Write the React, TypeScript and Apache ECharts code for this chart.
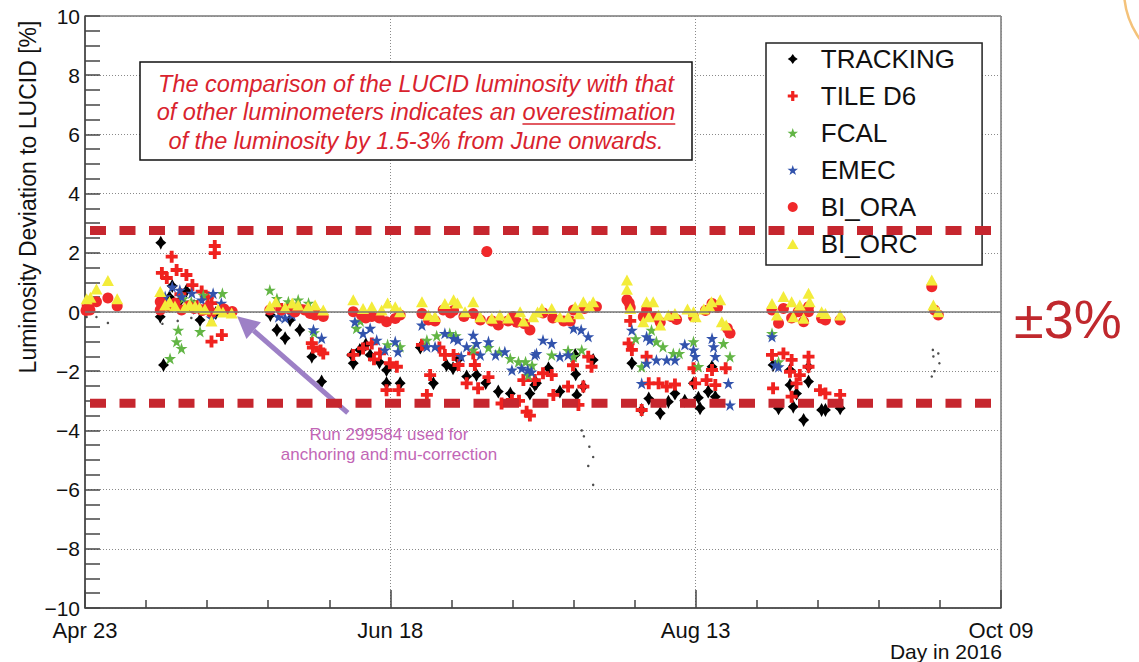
import React, { useEffect, useRef } from 'react';
import * as echarts from 'echarts';

const FONT = '"Liberation Sans", Arial, Helvetica, sans-serif';

// x: days since Apr 23 2016
const xTickDays = [0, 56, 112, 168];
const xTickLabels = ['Apr 23', 'Jun 18', 'Aug 13', 'Oct 09'];
const seriesNames = ['TRACKING', 'TILE D6', 'FCAL', 'EMEC', 'BI_ORA', 'BI_ORC'];

const tracking = [
  [13.9, 2.34], [14.4, -1.79], [16, 0.88], [18.6, 0.72], [21.1, -0.27], [13.8, -0.16], [25, 0.07], [24, -0.03],
  [15.5, 0.5], [17.5, 0.4], [20, 0.2], [22.5, 0.1],
  [35.2, -0.61], [36.7, -0.89], [37.6, -0.27], [39.4, -0.61], [41.6, -1.51], [43.4, -2.35], [34, -0.1],
  [48.9, -1.45], [49.2, -1.73], [50.4, -1.28], [52.3, -1.45], [55.3, -1.96], [55.3, -2.41], [57.8, -2.41], [51.5, -1.1], [54, -1.7],
  [63.9, -2.41], [66.3, -1.79], [67.5, -1.9], [70, -2.18], [71.8, -2.13], [75.8, -2.69], [78, -2.75], [81.6, -2.75], [82.8, -2.41],
  [82.5, -2.47], [87.1, -2.69], [90.2, -2.8], [91.4, -2.52], [89.9, -1.45], [93.2, -1.62], [90, -2.1], [73.5, -2.4], [68.5, -1.6],
  [61.5, -1.2], [85, -1.9],
  [100.3, -1.73], [102.1, -3.31], [103.4, -2.92], [105.5, -3.42], [107, -3.03], [108.2, -2.75], [111.6, -2.41], [112.5, -2.9],
  [112.8, -3.25], [114.3, -2.69], [115.6, -2.86], [115, -1.85], [110, -3.0],
  [126.2, -1.79], [127.2, -3.25], [129.3, -1.96], [129.3, -2.47], [130.5, -2.75], [129.9, -3.2], [132.7, -2.35], [132.7, -1.85],
  [131.8, -3.65], [135.1, -3.31], [135.8, -3.31], [138.5, -3.25],
];
const trackingSmall = [
  [0.3, -0.17], [2.1, -0.17], [4.2, -0.37], [14.2, -0.4], [17, -0.3], [19.5, -0.2],
  [91.1, -4.0], [91.5, -4.2], [92.5, -4.55], [93.2, -4.9], [92.3, -5.2], [93.2, -5.84],
  [155.5, -1.28], [156.5, -1.4], [155.6, -1.5], [156.7, -1.73], [155.8, -2.0], [155.3, -2.18],
];
const tileD6 = [
  [0.5, 0.2],
  [15.9, 1.87], [14.1, 1.32], [15, 1.15], [16.8, 1.42], [18.6, 1.25], [19.7, 0.91], [21.4, 0.69], [23.8, 2.23], [23.8, 1.99],
  [23.2, 0.3], [23.2, -1.0], [25.1, -0.78], [14.7, 0.35], [17.5, 0.6], [22.5, 0.5], [20.5, 0.2],
  [41.6, -1.05], [41.8, -1.2], [43.2, -1.3], [43.7, -1.4], [36, 0.1], [39, 0.2],
  [49.2, -1.45], [51, -1.23], [52.6, -1.06], [54.1, -1.4], [55.9, -1.73], [57.2, -1.85], [55.3, -2.64], [57.5, -2.64], [53, -1.6],
  [61.8, -1.11], [63.3, -2.13], [62.7, -2.8], [66, -1.45], [67.6, -1.45], [68.5, -1.79], [70, -2.41], [71.2, -1.4], [71.5, -1.79],
  [72.1, -2.58], [76.4, -3.09], [78.3, -2.97], [79.6, -3.0], [81, -3.37], [80.4, -2.3], [82.5, -2.3], [84, -2.07], [85.6, -2.13],
  [85.9, -2.8], [88.6, -2.52], [90.5, -3.14], [91.4, -2.52], [92.3, -1.51], [92.9, -1.85], [81.6, -3.5], [74, -2.2], [65, -1.2],
  [89.5, -1.8],
  [99.7, -1.06], [100.3, -1.28], [103, -1.51], [103.4, -2.41], [105.2, -2.41], [106.7, -2.52], [108.2, -2.45], [102.1, -3.31],
  [111.6, -1.9], [111.9, -2.41], [114, -2.3], [115.6, -2.47], [115, -1.96], [100, -0.3], [117.5, -1.9],
  [126, -1.45], [128.1, -1.4], [129.6, -1.62], [129.3, -2.02], [131.1, -2.13], [130.5, -2.41], [129.6, -2.86], [132.7, -1.51],
  [132.7, -1.85], [134.8, -2.64], [135.8, -2.75], [138.5, -2.8], [126.2, -2.58],
];
const fcal = [
  [17.1, -0.61], [16.8, -1.0], [17.7, -1.23], [15.6, -1.57], [21.1, -0.66], [25.2, 0.63], [19.5, 0.35], [21.7, 0.57], [18, 0.45],
  [33.9, 0.74], [35.2, 0.46], [37.3, 0.35], [39.1, 0.41], [41, 0.3], [42, -0.7],
  [49.8, -0.55], [57.8, -1.17], [50.5, -0.3], [55.5, -1.1],
  [62.7, -0.95], [66.9, -0.72], [68, -0.8], [71.2, -1.28], [78, -1.57], [79.5, -1.68], [80.8, -1.68], [81.3, -2.13], [82, -1.8],
  [85.6, -1.45], [88.6, -1.3], [91.1, -1.28], [89.6, -1.5], [74, -1.2], [76, -1.35], [64.5, -0.8],
  [103.9, -0.61], [104.8, -1.0], [102.1, -1.85], [106, -1.17], [107.9, -1.4], [111.6, -1.0], [117.1, -1.06], [118.3, -1.51],
  [112.5, -1.84], [109, -1.4], [101, -0.9],
  [126, -0.72], [127.2, -1.68],
];
const emec = [
  [17.4, 0.74], [17.7, 0.52], [21.4, 0.41], [23.5, 0.63], [23.2, -0.2], [14.7, 0.52], [19.6, 0.64], [16, 0.85], [20.5, 0.1], [25, 0.3],
  [35.5, -0.16], [36.7, -0.2], [41.9, -0.6], [43.4, -0.88], [38, -0.1],
  [49.5, -0.33], [51, -0.72], [52.3, -0.55], [53.5, -0.95], [55, -1.28], [56.9, -1.0], [57.4, -1.34],
  [61.8, -0.44], [62.7, -1.17], [64.2, -1.17], [66, -0.72], [67.6, -0.89], [68.4, -0.95], [70, -1.17], [71.2, -0.78], [71.8, -1.06],
  [72.5, -1.45], [75.3, -1.45], [77, -1.34], [78.3, -1.96], [80.1, -1.9], [81.2, -1.96], [82.5, -1.45], [84, -0.95], [85.6, -1.06],
  [82.8, -1.4], [87.1, -1.5], [89.6, -0.55], [91, -0.6], [92.3, -0.83], [81.9, -2.02], [88.6, -1.45], [74, -1.0], [69, -1.5],
  [100.3, -0.61], [103, -0.83], [103.6, -0.95], [103, -1.73], [104.8, -1.62], [106.7, -1.62], [108.2, -1.62], [111.6, -1.28],
  [111.9, -1.5], [115, -0.89], [115.3, -1.17], [115.6, -1.5], [118, -2.41], [118.3, -3.14], [102.1, -2.41], [110, -1.1],
  [126, -0.83], [126.6, -1.79], [127.2, -1.85],
];
const biOra = [
  [0.2, 0.05], [0.9, 0.07], [2.1, 0.35], [4.2, 0.47], [5.9, 0.2],
  [13.8, 0.35], [13.8, 0.07], [15.6, 0.18], [17.7, 0.07], [20, 0.12], [23.2, -0.02], [25.5, 0.1], [27, 0.02], [16.5, 0.3], [19, 0.2],
  [21.5, 0.05], [22.5, 0.15],
  [33.9, 0.07], [36, 0.07], [37.5, 0.1], [40.3, 0.07], [41.3, -0.05], [43.4, -0.08], [42.2, -0.1], [43.7, -0.15], [38.5, 0.0],
  [49.2, 0.01], [50.7, -0.1], [52.6, -0.15], [55.3, -0.33], [56.9, -0.22], [57.8, -0.1], [54, -0.2], [51.5, -0.2],
  [61.8, -0.05], [63, -0.27], [65.7, 0.07], [67.6, 0.05], [67, -0.03], [71.2, -0.05], [72.5, -0.27], [74.6, -0.3], [75.8, -0.44],
  [77.6, -0.3], [79.2, -0.35], [80.6, -0.4], [81.6, -0.61], [84, -0.03], [85.8, -0.2], [87.8, -0.3], [89.6, 0.07], [91.6, 0.12],
  [93.8, 0.18], [89, -0.3], [69.5, -0.15], [73.7, 2.04], [64.2, -0.3], [78.5, -0.15],
  [99.4, 0.41], [100, 0.15], [103, 0.07], [102.4, -0.16], [104.6, -0.16], [107.6, -0.16], [111.6, -0.16], [113.8, 0.05], [115, 0.29],
  [116, 0.15], [118.3, -0.72], [117.8, -0.55], [105.5, -0.35], [108.5, -0.25], [99.8, 0.3],
  [126, 0.07], [127.2, -0.38], [128.1, 0.12], [129.6, -0.2], [130.8, 0.01], [131.8, -0.33], [132.7, 0.18], [132.7, 0.01],
  [135.1, -0.21], [135.8, -0.27], [138.5, -0.27],
  [155.3, 0.85], [155.8, 0.07], [156.5, -0.1],
];
const biOrc = [
  [0.3, 0.45], [2.1, 0.78], [4.2, 1.06], [5.9, 0.45], [1.0, 0.5],
  [13.8, 0.69], [14.7, 0.24], [16.5, 0.2], [18.3, 0.15], [20.2, 0.2], [22, 0.1], [24.4, 0.1], [26.9, -0.03], [23.2, -0.3], [25.3, 0.0],
  [15.5, 0.35], [19.2, 0.25], [21, 0.15],
  [33.9, 0.2], [36.7, 0.15], [39.1, 0.24], [40.9, 0.18], [42.2, 0.24], [43.7, 0.07], [38, 0.3], [35, 0.35],
  [49.2, 0.41], [51, 0.12], [52.6, 0.18], [54.4, 0.07], [56.9, 0.18], [57.8, 0.01], [55.5, 0.3],
  [61.8, 0.35], [63, -0.1], [64.2, -0.15], [66, 0.29], [67.6, 0.41], [68.3, 0.3], [69.7, 0.01], [71.2, 0.35], [72.5, -0.16],
  [74.6, -0.21], [76.1, -0.1], [77.6, -0.2], [79.8, 0.01], [80.4, -0.3], [82.2, -0.16], [83.8, 0.12], [85.6, 0.12], [87.1, -0.16],
  [88.6, -0.16], [89.9, 0.18], [91.4, 0.35], [93.2, 0.35], [90.6, -0.06], [83, 0.0], [92.5, 0.2],
  [99.4, 1.08], [99.4, 0.77], [100, 0.12], [103, 0.35], [104.2, 0.35], [102.4, -0.33], [103.4, -0.16], [105.2, -0.1], [105.5, -0.44],
  [107, -0.1], [108.2, -0.05], [111.6, 0.01], [112, -0.16], [113.5, 0.1], [114.9, 0.35], [116.5, 0.41], [116.8, -0.33],
  [117.6, -0.44], [114.5, 0.2], [110.5, 0.1],
  [126, 0.29], [126.9, -0.1], [128.1, 0.52], [129.6, 0.35], [129.9, -0.16], [131.1, 0.24], [131.8, -0.21], [132.7, 0.63],
  [132.9, 0.35], [135.1, 0.01], [135.8, -0.05], [138.5, -0.1],
  [155.3, 1.08], [155.6, 0.24], [156.5, 0.01],
];

const limitUpper = 2.75;
const limitLower = -3.08;
const anchorRun = [27.9, -0.14];
const arrowTail = [48.2, -3.41];

const annotationLines = [
  'The comparison of the LUCID luminosity with that',
  'of other luminometers indicates an overestimation',
  'of the luminosity by 1.5-3% from June onwards.',
];
const runLines = ['Run 299584 used for', 'anchoring and mu-correction'];

const symCross = 'path://M34,0H66V34H100V66H66V100H34V66H0V34H34Z';
const symStar = 'path://M50,0L61.8,35.6L99,35.6L68.9,57.6L80.3,93.1L50,71.1L19.7,93.1L31.1,57.6L1,35.6L38.2,35.6Z';
const symDiamond = 'path://M50,0Q66,34 100,50Q66,66 50,100Q34,66 0,50Q34,34 50,0Z';
const symTriangle = 'path://M50,0L100,87L0,87Z';

export default function App() {
  const ref = useRef<HTMLDivElement>(null);
  useEffect(() => {
    const chart = echarts.init(ref.current!, null, { renderer: 'svg' });
    const mk = (name: string, data: number[][], symbol: string, size: any, color: string) => ({
      type: 'scatter', name, data, symbol, symbolSize: size,
      itemStyle: { color, opacity: 1 }, emphasis: { disabled: true }, silent: true,
    });
    const dotted = { color: '#8a8a8a', type: [1, 2], width: 1 };
    chart.setOption({
      animation: false,
      backgroundColor: '#ffffff',
      textStyle: { fontFamily: FONT },
      grid: { left: 85, top: 16, width: 916, height: 592, show: true, borderColor: '#333', borderWidth: 1, backgroundColor: 'transparent' },
      xAxis: {
        type: 'value', min: 0, max: 168, interval: 56,
        axisLine: { show: true, onZero: false, lineStyle: { color: '#444', width: 1.5 } },
        axisTick: { show: true, inside: true, length: 18, lineStyle: { color: '#444', width: 1.5 } },
        minorTick: { show: true, splitNumber: 5, length: 8, lineStyle: { color: '#444', width: 1.5 } },
        splitLine: { show: true, lineStyle: dotted },
        axisLabel: {
          fontSize: 22, color: '#111', margin: 11, fontFamily: FONT, showMinLabel: true, showMaxLabel: true,
          formatter: (v: number) => { const i = xTickDays.indexOf(Math.round(v)); return i >= 0 ? xTickLabels[i] : ''; },
        },
      },
      yAxis: {
        type: 'value', min: -10, max: 10, interval: 2,
        axisLine: { show: true, onZero: false, lineStyle: { color: '#444', width: 1.5 } },
        axisTick: { show: true, inside: true, length: 15, lineStyle: { color: '#444', width: 1.5 } },
        minorTick: { show: true, splitNumber: 4, length: 15, lineStyle: { color: '#444', width: 1.5 } },
        splitLine: { show: true, lineStyle: dotted },
        axisLabel: {
          fontSize: 21, color: '#111', margin: 5, fontFamily: FONT,
          formatter: (v: number) => String(v).replace('-', '\u2212'),
        },
      },
      legend: {
        orient: 'vertical', left: 766, top: 43, itemWidth: 46, itemHeight: 10, itemGap: 11,
        padding: [3, 27, 8, 21], borderColor: '#222', borderWidth: 1.5, backgroundColor: '#fff',
        textStyle: { fontSize: 26, lineHeight: 26, color: '#111', fontFamily: FONT },
        symbolKeepAspect: true,
        selectedMode: false, data: seriesNames,
      },
      series: [
        {
          ...mk(seriesNames[0], tracking, symDiamond, [11, 14], '#000000'),
          markLine: {
            silent: true, symbol: 'none', label: { show: false },
            lineStyle: { color: '#777', width: 1.5, type: 'solid' },
            data: [{ yAxis: 0 }],
          },
        },
        { type: 'scatter', name: 'tracking-small', data: trackingSmall, symbol: 'circle', symbolSize: 2.5, itemStyle: { color: '#222' }, silent: true },
        mk(seriesNames[1], tileD6, symCross, 12, '#f0221f'),
        mk(seriesNames[2], fcal, symStar, 12, '#62b545'),
        mk(seriesNames[3], emec, symStar, 12, '#3253ac'),
        mk(seriesNames[4], biOra, 'circle', 11, '#f0282a'),
        mk(seriesNames[5], biOrc, symTriangle, [12, 11], '#f3ec3a'),
      ],
    });

    const px = (p: number[]) => chart.convertToPixel({ gridIndex: 0 }, p) as number[];
    const yU = px([0, limitUpper])[1];
    const yL = px([0, limitLower])[1];
    const xStart = px([0, 0])[0] + 5;
    const xEnd = px([168, 0])[0] - 9;
    const tip = px(anchorRun);
    const tail = px(arrowTail);
    const dx = tip[0] - tail[0], dy = tip[1] - tail[1];
    const len = Math.hypot(dx, dy);
    const ux = dx / len, uy = dy / len;
    const headLen = 22, headHalf = 11;
    const bx = tip[0] - ux * headLen, by = tip[1] - uy * headLen;
    const pxv = -uy, pyv = ux;

    const annFont = `italic 23.5px ${FONT}`;
    const cx = 416;
    const ctx = document.createElement('canvas').getContext('2d')!;
    ctx.font = annFont;
    const full = ctx.measureText(annotationLines[1]).width;
    const pre = ctx.measureText('of other luminometers indicates an ').width;
    const word = ctx.measureText('overestimation').width;
    const ulX0 = cx - full / 2 + pre;

    const annText = (t: string, y: number) => ({
      type: 'text', x: cx, y, z: 20,
      style: { text: t, fontSize: 23.5, fontStyle: 'italic', fontFamily: FONT, fill: '#d9232e', textAlign: 'center', textVerticalAlign: 'middle' },
    });
    const dash = (y: number) => ({
      type: 'line', z: 100, silent: true,
      shape: { x1: xStart, y1: y, x2: xEnd, y2: y },
      style: { stroke: '#c6262e', lineWidth: 9, lineDash: [16, 13.5] },
    });

    chart.setOption({
      graphic: [
        { type: 'circle', z: 1, silent: true, shape: { cx: 1208, cy: -10, r: 84 }, style: { fill: 'none', stroke: '#f4c27a', lineWidth: 2.5 } },
        { type: 'rect', z: 15, shape: { x: 140, y: 62, width: 552, height: 98 }, style: { fill: '#fff', stroke: '#111', lineWidth: 1.5 } },
        annText(annotationLines[0], 84),
        annText(annotationLines[1], 112),
        annText(annotationLines[2], 141),
        { type: 'line', z: 21, shape: { x1: ulX0, y1: 124, x2: ulX0 + word, y2: 124 }, style: { stroke: '#d9232e', lineWidth: 1.5 } },
        dash(yU),
        dash(yL),
        {
          type: 'line', z: 30, shape: { x1: tail[0], y1: tail[1], x2: bx, y2: by },
          style: { stroke: '#9d80c6', lineWidth: 5 },
        },
        {
          type: 'polygon', z: 30,
          shape: { points: [[tip[0], tip[1]], [bx + pxv * headHalf, by + pyv * headHalf], [bx - pxv * headHalf, by - pyv * headHalf]] },
          style: { fill: '#9d80c6' },
        },
        {
          type: 'text', x: 389, y: 434, z: 30,
          style: { text: runLines[0], fontSize: 17, fontFamily: FONT, fill: '#c266b6', textAlign: 'center', textVerticalAlign: 'middle' },
        },
        {
          type: 'text', x: 389, y: 454, z: 30,
          style: { text: runLines[1], fontSize: 17, fontFamily: FONT, fill: '#c266b6', textAlign: 'center', textVerticalAlign: 'middle' },
        },
        {
          type: 'text', x: 28, y: 197, rotation: Math.PI / 2, z: 30,
          style: { text: 'Luminosity Deviation to LUCID [%]', fontSize: 23, fontFamily: FONT, fill: '#111', textAlign: 'center', textVerticalAlign: 'middle' },
        },
        {
          type: 'text', x: 1002, y: 651.5, z: 30,
          style: { text: 'Day in 2016', fontSize: 21, fontFamily: FONT, fill: '#111', textAlign: 'right', textVerticalAlign: 'middle' },
        },
        {
          type: 'text', x: 1014, y: 319, z: 30,
          style: { text: '\u00b13%', fontSize: 54, fontFamily: FONT, fill: '#c0282d', textAlign: 'left', textVerticalAlign: 'middle' },
        },
      ],
    });
    return () => chart.dispose();
  }, []);
  return <div ref={ref} style={{ position: 'absolute', left: 0, top: 0, width: 1139, height: 662, background: '#fff' }} />;
}
